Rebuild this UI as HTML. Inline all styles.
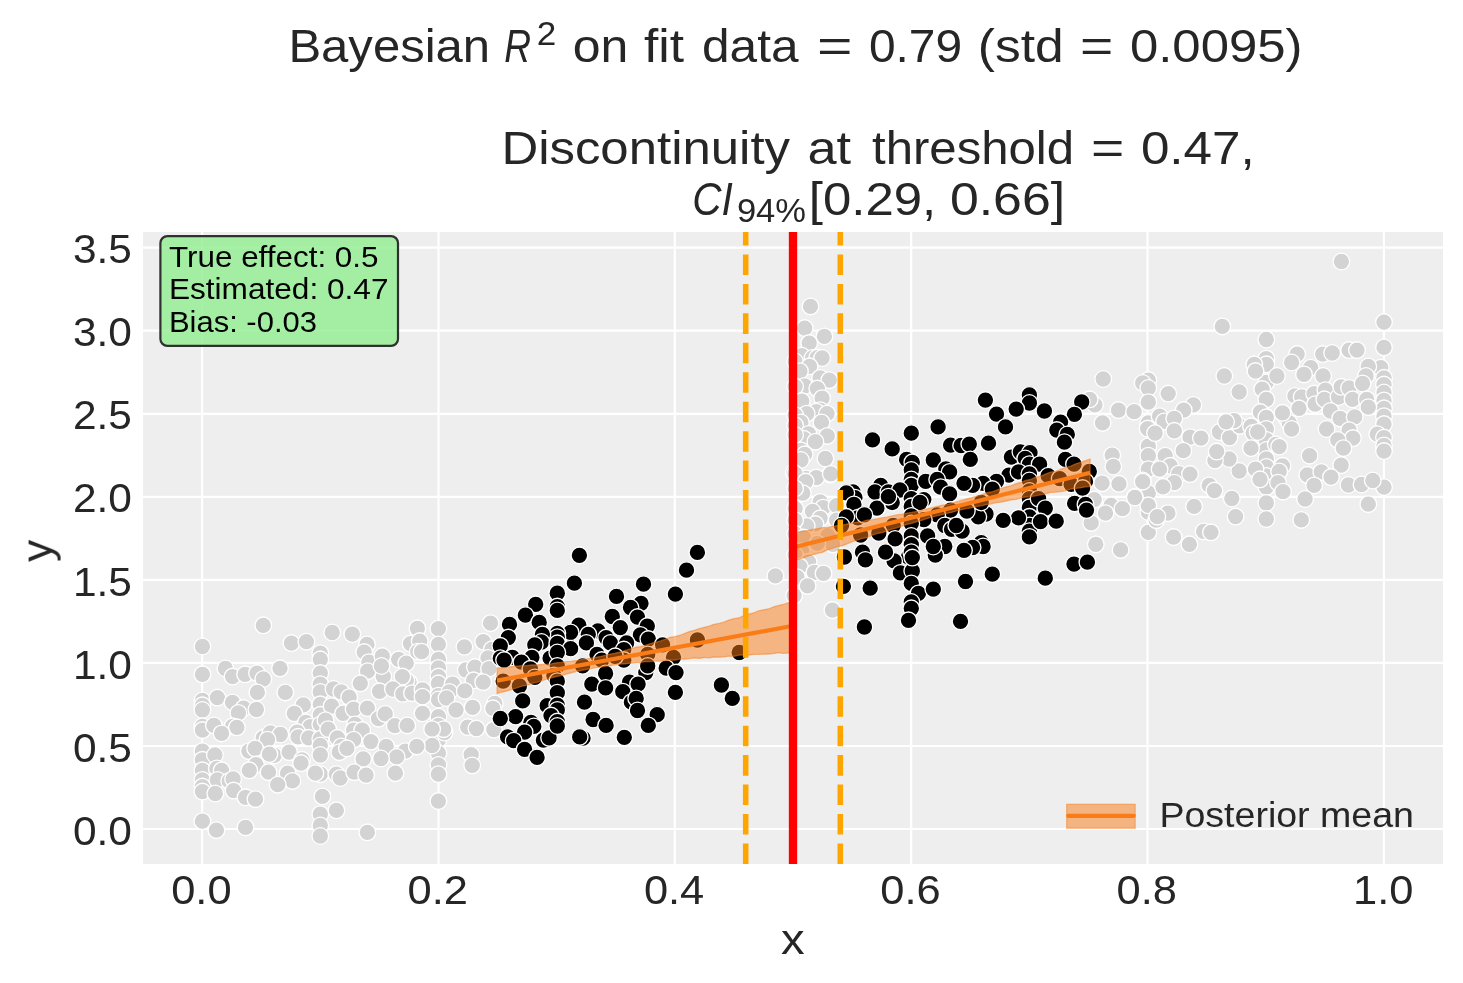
<!DOCTYPE html>
<html><head><meta charset="utf-8"><title>Regression discontinuity</title>
<style>
html,body{margin:0;padding:0;background:#fff;}
body{width:1463px;height:983px;overflow:hidden;font-family:"Liberation Sans",sans-serif;}
svg{display:block;position:absolute;left:0;top:0;}
text{font-family:"Liberation Sans",sans-serif;fill:#262626;}
.g{fill:#d3d3d3;stroke:#fff;stroke-width:1.33;}
.k{fill:#000;stroke:#fff;stroke-width:1.33;}
</style></head><body>
<svg width="1463" height="983" viewBox="0 0 1463 983">
<rect x="0" y="0" width="1463" height="983" fill="#ffffff"/>
<rect x="143.0" y="232.0" width="1300.0" height="632.0" fill="#eeeeee"/>
<clipPath id="ax"><rect x="143.0" y="232.0" width="1300.0" height="632.0"/></clipPath>
<g clip-path="url(#ax)">
<g stroke="#ffffff" stroke-width="2.2" fill="none">
<line x1="202.1" y1="232.0" x2="202.1" y2="864.0"/>
<line x1="438.5" y1="232.0" x2="438.5" y2="864.0"/>
<line x1="674.8" y1="232.0" x2="674.8" y2="864.0"/>
<line x1="911.2" y1="232.0" x2="911.2" y2="864.0"/>
<line x1="1147.5" y1="232.0" x2="1147.5" y2="864.0"/>
<line x1="1383.9" y1="232.0" x2="1383.9" y2="864.0"/>
<line x1="143.0" y1="829.0" x2="1443.0" y2="829.0"/>
<line x1="143.0" y1="746.0" x2="1443.0" y2="746.0"/>
<line x1="143.0" y1="662.9" x2="1443.0" y2="662.9"/>
<line x1="143.0" y1="579.9" x2="1443.0" y2="579.9"/>
<line x1="143.0" y1="496.8" x2="1443.0" y2="496.8"/>
<line x1="143.0" y1="413.8" x2="1443.0" y2="413.8"/>
<line x1="143.0" y1="330.7" x2="1443.0" y2="330.7"/>
<line x1="143.0" y1="247.6" x2="1443.0" y2="247.6"/>
</g>
<g class="g">
<circle cx="202.4" cy="646.5" r="8.33"/>
<circle cx="202.4" cy="674.3" r="8.33"/>
<circle cx="202.4" cy="700.5" r="8.33"/>
<circle cx="202.4" cy="705.3" r="8.33"/>
<circle cx="202.4" cy="710.0" r="8.33"/>
<circle cx="202.4" cy="726.3" r="8.33"/>
<circle cx="202.4" cy="730.1" r="8.33"/>
<circle cx="202.4" cy="751.2" r="8.33"/>
<circle cx="202.4" cy="759.8" r="8.33"/>
<circle cx="202.4" cy="770.3" r="8.33"/>
<circle cx="202.4" cy="779.9" r="8.33"/>
<circle cx="202.4" cy="786.6" r="8.33"/>
<circle cx="263.3" cy="625.3" r="8.33"/>
<circle cx="291.4" cy="643.1" r="8.33"/>
<circle cx="306.4" cy="641.7" r="8.33"/>
<circle cx="332.2" cy="632.5" r="8.33"/>
<circle cx="352.3" cy="634.1" r="8.33"/>
<circle cx="367.0" cy="644.4" r="8.33"/>
<circle cx="364.2" cy="652.1" r="8.33"/>
<circle cx="368.9" cy="662.2" r="8.33"/>
<circle cx="367.6" cy="671.2" r="8.33"/>
<circle cx="360.3" cy="683.3" r="8.33"/>
<circle cx="382.3" cy="656.1" r="8.33"/>
<circle cx="383.3" cy="676.6" r="8.33"/>
<circle cx="379.5" cy="691.3" r="8.33"/>
<circle cx="381.4" cy="666.0" r="8.33"/>
<circle cx="398.6" cy="659.3" r="8.33"/>
<circle cx="406.3" cy="663.2" r="8.33"/>
<circle cx="417.4" cy="628.3" r="8.33"/>
<circle cx="410.5" cy="643.6" r="8.33"/>
<circle cx="419.7" cy="641.1" r="8.33"/>
<circle cx="417.8" cy="651.7" r="8.33"/>
<circle cx="421.6" cy="651.7" r="8.33"/>
<circle cx="438.4" cy="628.7" r="8.33"/>
<circle cx="438.4" cy="644.4" r="8.33"/>
<circle cx="438.4" cy="659.3" r="8.33"/>
<circle cx="438.4" cy="667.9" r="8.33"/>
<circle cx="438.4" cy="676.6" r="8.33"/>
<circle cx="438.4" cy="683.3" r="8.33"/>
<circle cx="438.4" cy="695.7" r="8.33"/>
<circle cx="438.4" cy="699.5" r="8.33"/>
<circle cx="438.4" cy="716.7" r="8.33"/>
<circle cx="438.4" cy="725.4" r="8.33"/>
<circle cx="438.4" cy="739.7" r="8.33"/>
<circle cx="438.4" cy="753.1" r="8.33"/>
<circle cx="438.4" cy="765.0" r="8.33"/>
<circle cx="438.4" cy="774.2" r="8.33"/>
<circle cx="452.6" cy="684.2" r="8.33"/>
<circle cx="449.3" cy="691.9" r="8.33"/>
<circle cx="446.5" cy="698.0" r="8.33"/>
<circle cx="456.0" cy="710.0" r="8.33"/>
<circle cx="444.5" cy="732.6" r="8.33"/>
<circle cx="443.6" cy="729.2" r="8.33"/>
<circle cx="432.1" cy="729.2" r="8.33"/>
<circle cx="432.1" cy="745.5" r="8.33"/>
<circle cx="225.4" cy="668.5" r="8.33"/>
<circle cx="232.5" cy="676.6" r="8.33"/>
<circle cx="245.1" cy="674.3" r="8.33"/>
<circle cx="257.0" cy="673.1" r="8.33"/>
<circle cx="263.3" cy="679.0" r="8.33"/>
<circle cx="257.4" cy="692.4" r="8.33"/>
<circle cx="280.0" cy="668.3" r="8.33"/>
<circle cx="285.3" cy="692.4" r="8.33"/>
<circle cx="217.4" cy="697.6" r="8.33"/>
<circle cx="232.5" cy="702.4" r="8.33"/>
<circle cx="243.6" cy="708.1" r="8.33"/>
<circle cx="238.4" cy="712.9" r="8.33"/>
<circle cx="256.4" cy="709.5" r="8.33"/>
<circle cx="213.9" cy="725.4" r="8.33"/>
<circle cx="232.5" cy="726.3" r="8.33"/>
<circle cx="236.9" cy="727.3" r="8.33"/>
<circle cx="221.6" cy="733.4" r="8.33"/>
<circle cx="303.3" cy="704.9" r="8.33"/>
<circle cx="294.3" cy="713.3" r="8.33"/>
<circle cx="305.8" cy="722.5" r="8.33"/>
<circle cx="310.2" cy="726.7" r="8.33"/>
<circle cx="297.2" cy="732.1" r="8.33"/>
<circle cx="298.1" cy="736.8" r="8.33"/>
<circle cx="308.7" cy="737.8" r="8.33"/>
<circle cx="320.3" cy="653.2" r="8.33"/>
<circle cx="320.3" cy="659.3" r="8.33"/>
<circle cx="320.3" cy="673.1" r="8.33"/>
<circle cx="320.3" cy="684.2" r="8.33"/>
<circle cx="320.3" cy="691.9" r="8.33"/>
<circle cx="320.3" cy="704.3" r="8.33"/>
<circle cx="320.3" cy="714.8" r="8.33"/>
<circle cx="320.3" cy="724.4" r="8.33"/>
<circle cx="320.3" cy="738.8" r="8.33"/>
<circle cx="320.3" cy="745.5" r="8.33"/>
<circle cx="320.3" cy="755.0" r="8.33"/>
<circle cx="320.3" cy="774.2" r="8.33"/>
<circle cx="315.4" cy="773.2" r="8.33"/>
<circle cx="333.5" cy="689.0" r="8.33"/>
<circle cx="341.2" cy="691.9" r="8.33"/>
<circle cx="349.2" cy="697.2" r="8.33"/>
<circle cx="331.6" cy="706.2" r="8.33"/>
<circle cx="343.1" cy="713.3" r="8.33"/>
<circle cx="353.6" cy="709.1" r="8.33"/>
<circle cx="325.5" cy="720.2" r="8.33"/>
<circle cx="328.2" cy="729.2" r="8.33"/>
<circle cx="337.4" cy="737.8" r="8.33"/>
<circle cx="367.4" cy="708.1" r="8.33"/>
<circle cx="378.5" cy="718.7" r="8.33"/>
<circle cx="385.2" cy="713.9" r="8.33"/>
<circle cx="355.0" cy="724.4" r="8.33"/>
<circle cx="353.6" cy="730.1" r="8.33"/>
<circle cx="362.2" cy="730.1" r="8.33"/>
<circle cx="353.6" cy="739.7" r="8.33"/>
<circle cx="370.9" cy="741.6" r="8.33"/>
<circle cx="341.2" cy="746.4" r="8.33"/>
<circle cx="339.3" cy="752.2" r="8.33"/>
<circle cx="346.9" cy="748.3" r="8.33"/>
<circle cx="394.8" cy="725.7" r="8.33"/>
<circle cx="407.2" cy="725.4" r="8.33"/>
<circle cx="422.5" cy="713.3" r="8.33"/>
<circle cx="409.1" cy="682.3" r="8.33"/>
<circle cx="406.3" cy="680.4" r="8.33"/>
<circle cx="402.4" cy="676.6" r="8.33"/>
<circle cx="392.9" cy="689.0" r="8.33"/>
<circle cx="402.8" cy="693.8" r="8.33"/>
<circle cx="412.0" cy="693.2" r="8.33"/>
<circle cx="422.5" cy="690.0" r="8.33"/>
<circle cx="422.5" cy="696.7" r="8.33"/>
<circle cx="386.2" cy="746.4" r="8.33"/>
<circle cx="405.3" cy="751.2" r="8.33"/>
<circle cx="416.8" cy="746.4" r="8.33"/>
<circle cx="396.7" cy="756.9" r="8.33"/>
<circle cx="381.0" cy="758.5" r="8.33"/>
<circle cx="363.2" cy="758.9" r="8.33"/>
<circle cx="263.3" cy="737.8" r="8.33"/>
<circle cx="270.4" cy="733.0" r="8.33"/>
<circle cx="280.3" cy="734.5" r="8.33"/>
<circle cx="267.5" cy="739.7" r="8.33"/>
<circle cx="248.9" cy="751.2" r="8.33"/>
<circle cx="255.1" cy="748.3" r="8.33"/>
<circle cx="274.2" cy="755.4" r="8.33"/>
<circle cx="269.4" cy="754.1" r="8.33"/>
<circle cx="289.1" cy="752.2" r="8.33"/>
<circle cx="302.0" cy="759.8" r="8.33"/>
<circle cx="301.0" cy="763.1" r="8.33"/>
<circle cx="256.0" cy="764.6" r="8.33"/>
<circle cx="249.3" cy="770.3" r="8.33"/>
<circle cx="268.5" cy="772.2" r="8.33"/>
<circle cx="287.6" cy="773.2" r="8.33"/>
<circle cx="292.4" cy="780.9" r="8.33"/>
<circle cx="277.7" cy="784.7" r="8.33"/>
<circle cx="214.9" cy="755.0" r="8.33"/>
<circle cx="216.8" cy="768.4" r="8.33"/>
<circle cx="221.6" cy="770.3" r="8.33"/>
<circle cx="217.4" cy="779.9" r="8.33"/>
<circle cx="229.2" cy="780.9" r="8.33"/>
<circle cx="233.1" cy="778.9" r="8.33"/>
<circle cx="336.4" cy="774.2" r="8.33"/>
<circle cx="340.2" cy="778.0" r="8.33"/>
<circle cx="354.2" cy="772.2" r="8.33"/>
<circle cx="366.1" cy="775.1" r="8.33"/>
<circle cx="395.4" cy="773.2" r="8.33"/>
<circle cx="202.4" cy="791.6" r="8.33"/>
<circle cx="202.4" cy="821.2" r="8.33"/>
<circle cx="215.3" cy="793.5" r="8.33"/>
<circle cx="233.6" cy="790.6" r="8.33"/>
<circle cx="245.5" cy="797.3" r="8.33"/>
<circle cx="255.5" cy="799.2" r="8.33"/>
<circle cx="216.4" cy="830.2" r="8.33"/>
<circle cx="245.5" cy="827.4" r="8.33"/>
<circle cx="322.4" cy="796.4" r="8.33"/>
<circle cx="336.4" cy="810.3" r="8.33"/>
<circle cx="320.3" cy="814.2" r="8.33"/>
<circle cx="320.3" cy="825.5" r="8.33"/>
<circle cx="320.3" cy="836.0" r="8.33"/>
<circle cx="367.4" cy="832.3" r="8.33"/>
<circle cx="438.4" cy="801.1" r="8.33"/>
<circle cx="490.5" cy="623.2" r="8.33"/>
<circle cx="464.4" cy="646.8" r="8.33"/>
<circle cx="483.2" cy="641.6" r="8.33"/>
<circle cx="491.9" cy="649.3" r="8.33"/>
<circle cx="488.0" cy="658.0" r="8.33"/>
<circle cx="465.8" cy="670.0" r="8.33"/>
<circle cx="474.9" cy="667.1" r="8.33"/>
<circle cx="489.0" cy="668.7" r="8.33"/>
<circle cx="473.5" cy="680.3" r="8.33"/>
<circle cx="483.2" cy="682.2" r="8.33"/>
<circle cx="464.8" cy="690.9" r="8.33"/>
<circle cx="472.6" cy="707.4" r="8.33"/>
<circle cx="494.8" cy="703.5" r="8.33"/>
<circle cx="492.9" cy="708.3" r="8.33"/>
<circle cx="467.7" cy="727.1" r="8.33"/>
<circle cx="476.4" cy="728.6" r="8.33"/>
<circle cx="493.8" cy="729.6" r="8.33"/>
<circle cx="471.2" cy="754.7" r="8.33"/>
<circle cx="472.2" cy="765.4" r="8.33"/>
<circle cx="810.5" cy="306.4" r="8.33"/>
<circle cx="804.7" cy="328.1" r="8.33"/>
<circle cx="824.4" cy="336.4" r="8.33"/>
<circle cx="809.2" cy="343.1" r="8.33"/>
<circle cx="801.8" cy="355.7" r="8.33"/>
<circle cx="812.5" cy="358.0" r="8.33"/>
<circle cx="817.3" cy="357.6" r="8.33"/>
<circle cx="822.1" cy="358.0" r="8.33"/>
<circle cx="795.1" cy="361.5" r="8.33"/>
<circle cx="809.6" cy="366.3" r="8.33"/>
<circle cx="799.9" cy="371.2" r="8.33"/>
<circle cx="820.2" cy="377.9" r="8.33"/>
<circle cx="829.3" cy="380.2" r="8.33"/>
<circle cx="804.7" cy="386.0" r="8.33"/>
<circle cx="817.3" cy="388.6" r="8.33"/>
<circle cx="795.1" cy="386.6" r="8.33"/>
<circle cx="822.1" cy="398.2" r="8.33"/>
<circle cx="801.8" cy="401.1" r="8.33"/>
<circle cx="820.2" cy="410.2" r="8.33"/>
<circle cx="816.3" cy="411.7" r="8.33"/>
<circle cx="827.0" cy="413.7" r="8.33"/>
<circle cx="806.7" cy="413.7" r="8.33"/>
<circle cx="795.1" cy="415.2" r="8.33"/>
<circle cx="800.9" cy="422.4" r="8.33"/>
<circle cx="821.5" cy="422.4" r="8.33"/>
<circle cx="795.1" cy="425.3" r="8.33"/>
<circle cx="808.6" cy="434.0" r="8.33"/>
<circle cx="803.8" cy="438.8" r="8.33"/>
<circle cx="827.3" cy="435.9" r="8.33"/>
<circle cx="815.4" cy="441.7" r="8.33"/>
<circle cx="795.1" cy="434.9" r="8.33"/>
<circle cx="800.9" cy="450.4" r="8.33"/>
<circle cx="804.7" cy="454.3" r="8.33"/>
<circle cx="800.9" cy="460.0" r="8.33"/>
<circle cx="825.4" cy="458.5" r="8.33"/>
<circle cx="793.7" cy="472.6" r="8.33"/>
<circle cx="816.3" cy="477.4" r="8.33"/>
<circle cx="829.9" cy="474.5" r="8.33"/>
<circle cx="805.7" cy="478.4" r="8.33"/>
<circle cx="816.3" cy="477.7" r="8.33"/>
<circle cx="830.8" cy="473.9" r="8.33"/>
<circle cx="795.1" cy="473.9" r="8.33"/>
<circle cx="805.7" cy="481.6" r="8.33"/>
<circle cx="802.8" cy="493.2" r="8.33"/>
<circle cx="795.1" cy="488.4" r="8.33"/>
<circle cx="820.2" cy="501.9" r="8.33"/>
<circle cx="823.1" cy="507.7" r="8.33"/>
<circle cx="836.6" cy="505.7" r="8.33"/>
<circle cx="812.5" cy="511.5" r="8.33"/>
<circle cx="795.1" cy="508.6" r="8.33"/>
<circle cx="820.2" cy="518.3" r="8.33"/>
<circle cx="815.4" cy="524.1" r="8.33"/>
<circle cx="806.7" cy="526.0" r="8.33"/>
<circle cx="795.1" cy="520.2" r="8.33"/>
<circle cx="836.6" cy="520.2" r="8.33"/>
<circle cx="795.1" cy="533.8" r="8.33"/>
<circle cx="803.8" cy="537.6" r="8.33"/>
<circle cx="827.9" cy="535.7" r="8.33"/>
<circle cx="832.8" cy="544.4" r="8.33"/>
<circle cx="817.3" cy="543.4" r="8.33"/>
<circle cx="801.8" cy="551.2" r="8.33"/>
<circle cx="795.1" cy="555.0" r="8.33"/>
<circle cx="808.6" cy="561.8" r="8.33"/>
<circle cx="799.9" cy="566.6" r="8.33"/>
<circle cx="814.4" cy="572.4" r="8.33"/>
<circle cx="823.5" cy="573.4" r="8.33"/>
<circle cx="775.4" cy="575.9" r="8.33"/>
<circle cx="797.0" cy="577.2" r="8.33"/>
<circle cx="807.6" cy="585.9" r="8.33"/>
<circle cx="794.1" cy="595.6" r="8.33"/>
<circle cx="832.4" cy="610.1" r="8.33"/>
<circle cx="1384.0" cy="322.1" r="8.33"/>
<circle cx="1384.0" cy="347.4" r="8.33"/>
<circle cx="1380.7" cy="367.7" r="8.33"/>
<circle cx="1384.0" cy="377.8" r="8.33"/>
<circle cx="1384.0" cy="384.6" r="8.33"/>
<circle cx="1384.0" cy="392.5" r="8.33"/>
<circle cx="1384.0" cy="400.4" r="8.33"/>
<circle cx="1384.0" cy="408.3" r="8.33"/>
<circle cx="1384.0" cy="416.2" r="8.33"/>
<circle cx="1384.0" cy="424.1" r="8.33"/>
<circle cx="1377.3" cy="434.2" r="8.33"/>
<circle cx="1384.0" cy="437.6" r="8.33"/>
<circle cx="1384.0" cy="445.5" r="8.33"/>
<circle cx="1384.0" cy="451.1" r="8.33"/>
<circle cx="1384.0" cy="487.2" r="8.33"/>
<circle cx="1266.3" cy="339.5" r="8.33"/>
<circle cx="1266.3" cy="358.7" r="8.33"/>
<circle cx="1266.3" cy="364.3" r="8.33"/>
<circle cx="1266.3" cy="382.3" r="8.33"/>
<circle cx="1262.2" cy="389.1" r="8.33"/>
<circle cx="1266.3" cy="399.3" r="8.33"/>
<circle cx="1260.4" cy="412.1" r="8.33"/>
<circle cx="1266.3" cy="417.3" r="8.33"/>
<circle cx="1266.3" cy="429.0" r="8.33"/>
<circle cx="1266.3" cy="439.9" r="8.33"/>
<circle cx="1266.3" cy="450.0" r="8.33"/>
<circle cx="1266.3" cy="459.0" r="8.33"/>
<circle cx="1266.3" cy="466.9" r="8.33"/>
<circle cx="1266.3" cy="476.0" r="8.33"/>
<circle cx="1266.3" cy="487.2" r="8.33"/>
<circle cx="1266.3" cy="503.0" r="8.33"/>
<circle cx="1266.3" cy="519.0" r="8.33"/>
<circle cx="1148.3" cy="380.1" r="8.33"/>
<circle cx="1142.7" cy="383.0" r="8.33"/>
<circle cx="1148.3" cy="388.0" r="8.33"/>
<circle cx="1148.3" cy="402.2" r="8.33"/>
<circle cx="1148.3" cy="422.9" r="8.33"/>
<circle cx="1147.6" cy="428.6" r="8.33"/>
<circle cx="1148.3" cy="446.2" r="8.33"/>
<circle cx="1148.3" cy="455.7" r="8.33"/>
<circle cx="1148.3" cy="469.2" r="8.33"/>
<circle cx="1148.3" cy="492.9" r="8.33"/>
<circle cx="1148.3" cy="512.0" r="8.33"/>
<circle cx="1148.3" cy="505.3" r="8.33"/>
<circle cx="1222.3" cy="326.4" r="8.33"/>
<circle cx="1297.2" cy="354.1" r="8.33"/>
<circle cx="1291.6" cy="362.5" r="8.33"/>
<circle cx="1322.7" cy="354.1" r="8.33"/>
<circle cx="1332.2" cy="353.0" r="8.33"/>
<circle cx="1349.1" cy="350.1" r="8.33"/>
<circle cx="1357.0" cy="350.1" r="8.33"/>
<circle cx="1310.7" cy="367.7" r="8.33"/>
<circle cx="1304.0" cy="374.4" r="8.33"/>
<circle cx="1323.1" cy="376.0" r="8.33"/>
<circle cx="1368.3" cy="366.5" r="8.33"/>
<circle cx="1366.0" cy="376.0" r="8.33"/>
<circle cx="1254.3" cy="364.3" r="8.33"/>
<circle cx="1255.5" cy="371.1" r="8.33"/>
<circle cx="1276.9" cy="376.0" r="8.33"/>
<circle cx="1224.3" cy="376.0" r="8.33"/>
<circle cx="1239.2" cy="392.0" r="8.33"/>
<circle cx="1103.2" cy="379.0" r="8.33"/>
<circle cx="1168.2" cy="393.6" r="8.33"/>
<circle cx="1193.4" cy="404.9" r="8.33"/>
<circle cx="1183.7" cy="410.1" r="8.33"/>
<circle cx="1118.5" cy="410.1" r="8.33"/>
<circle cx="1134.1" cy="411.7" r="8.33"/>
<circle cx="1094.9" cy="404.9" r="8.33"/>
<circle cx="1089.7" cy="399.3" r="8.33"/>
<circle cx="1102.5" cy="422.9" r="8.33"/>
<circle cx="1159.6" cy="416.2" r="8.33"/>
<circle cx="1164.1" cy="421.4" r="8.33"/>
<circle cx="1174.3" cy="418.4" r="8.33"/>
<circle cx="1174.3" cy="430.8" r="8.33"/>
<circle cx="1155.1" cy="433.1" r="8.33"/>
<circle cx="1190.0" cy="437.2" r="8.33"/>
<circle cx="1200.9" cy="438.1" r="8.33"/>
<circle cx="1183.3" cy="450.7" r="8.33"/>
<circle cx="1165.2" cy="455.7" r="8.33"/>
<circle cx="1170.2" cy="465.8" r="8.33"/>
<circle cx="1178.8" cy="473.7" r="8.33"/>
<circle cx="1190.0" cy="474.1" r="8.33"/>
<circle cx="1174.3" cy="482.7" r="8.33"/>
<circle cx="1163.0" cy="486.8" r="8.33"/>
<circle cx="1159.6" cy="469.2" r="8.33"/>
<circle cx="1142.7" cy="480.5" r="8.33"/>
<circle cx="1134.8" cy="496.7" r="8.33"/>
<circle cx="1112.2" cy="455.2" r="8.33"/>
<circle cx="1113.3" cy="466.5" r="8.33"/>
<circle cx="1102.1" cy="483.2" r="8.33"/>
<circle cx="1119.0" cy="483.8" r="8.33"/>
<circle cx="1094.2" cy="499.6" r="8.33"/>
<circle cx="1111.1" cy="505.3" r="8.33"/>
<circle cx="1122.4" cy="508.7" r="8.33"/>
<circle cx="1105.5" cy="513.2" r="8.33"/>
<circle cx="1167.9" cy="513.2" r="8.33"/>
<circle cx="1194.1" cy="506.4" r="8.33"/>
<circle cx="1209.2" cy="485.4" r="8.33"/>
<circle cx="1214.4" cy="490.6" r="8.33"/>
<circle cx="1231.8" cy="498.5" r="8.33"/>
<circle cx="1235.6" cy="516.6" r="8.33"/>
<circle cx="1239.2" cy="471.0" r="8.33"/>
<circle cx="1229.1" cy="459.0" r="8.33"/>
<circle cx="1214.9" cy="460.6" r="8.33"/>
<circle cx="1216.7" cy="451.6" r="8.33"/>
<circle cx="1225.0" cy="433.1" r="8.33"/>
<circle cx="1219.4" cy="432.0" r="8.33"/>
<circle cx="1229.5" cy="437.6" r="8.33"/>
<circle cx="1239.7" cy="425.9" r="8.33"/>
<circle cx="1234.0" cy="420.7" r="8.33"/>
<circle cx="1226.1" cy="421.8" r="8.33"/>
<circle cx="1251.0" cy="426.3" r="8.33"/>
<circle cx="1253.2" cy="433.1" r="8.33"/>
<circle cx="1257.7" cy="432.0" r="8.33"/>
<circle cx="1251.0" cy="448.2" r="8.33"/>
<circle cx="1255.5" cy="469.2" r="8.33"/>
<circle cx="1260.0" cy="479.3" r="8.33"/>
<circle cx="1275.8" cy="444.4" r="8.33"/>
<circle cx="1279.2" cy="446.6" r="8.33"/>
<circle cx="1282.5" cy="465.8" r="8.33"/>
<circle cx="1279.2" cy="471.4" r="8.33"/>
<circle cx="1278.0" cy="482.7" r="8.33"/>
<circle cx="1283.0" cy="491.7" r="8.33"/>
<circle cx="1285.9" cy="417.3" r="8.33"/>
<circle cx="1289.3" cy="422.9" r="8.33"/>
<circle cx="1291.6" cy="429.0" r="8.33"/>
<circle cx="1282.5" cy="412.8" r="8.33"/>
<circle cx="1294.9" cy="395.9" r="8.33"/>
<circle cx="1301.7" cy="397.0" r="8.33"/>
<circle cx="1299.0" cy="408.3" r="8.33"/>
<circle cx="1314.1" cy="393.6" r="8.33"/>
<circle cx="1315.2" cy="404.2" r="8.33"/>
<circle cx="1325.4" cy="390.2" r="8.33"/>
<circle cx="1324.3" cy="399.3" r="8.33"/>
<circle cx="1338.5" cy="397.0" r="8.33"/>
<circle cx="1341.2" cy="386.8" r="8.33"/>
<circle cx="1349.1" cy="388.0" r="8.33"/>
<circle cx="1352.5" cy="399.3" r="8.33"/>
<circle cx="1362.6" cy="383.5" r="8.33"/>
<circle cx="1366.7" cy="399.3" r="8.33"/>
<circle cx="1368.3" cy="407.2" r="8.33"/>
<circle cx="1330.4" cy="411.0" r="8.33"/>
<circle cx="1340.1" cy="418.4" r="8.33"/>
<circle cx="1354.7" cy="416.9" r="8.33"/>
<circle cx="1326.5" cy="429.0" r="8.33"/>
<circle cx="1349.1" cy="430.2" r="8.33"/>
<circle cx="1352.9" cy="438.1" r="8.33"/>
<circle cx="1337.8" cy="439.9" r="8.33"/>
<circle cx="1343.4" cy="448.2" r="8.33"/>
<circle cx="1309.6" cy="455.7" r="8.33"/>
<circle cx="1341.2" cy="465.1" r="8.33"/>
<circle cx="1307.3" cy="474.8" r="8.33"/>
<circle cx="1321.3" cy="471.9" r="8.33"/>
<circle cx="1331.0" cy="477.1" r="8.33"/>
<circle cx="1314.1" cy="485.4" r="8.33"/>
<circle cx="1348.4" cy="485.0" r="8.33"/>
<circle cx="1361.5" cy="484.5" r="8.33"/>
<circle cx="1372.8" cy="480.5" r="8.33"/>
<circle cx="1305.1" cy="499.0" r="8.33"/>
<circle cx="1368.3" cy="504.2" r="8.33"/>
<circle cx="1301.3" cy="519.9" r="8.33"/>
<circle cx="1091.2" cy="522.9" r="8.33"/>
<circle cx="1148.3" cy="532.3" r="8.33"/>
<circle cx="1156.2" cy="520.2" r="8.33"/>
<circle cx="1173.6" cy="537.1" r="8.33"/>
<circle cx="1189.4" cy="544.3" r="8.33"/>
<circle cx="1203.6" cy="531.4" r="8.33"/>
<circle cx="1211.0" cy="532.3" r="8.33"/>
<circle cx="1095.8" cy="544.3" r="8.33"/>
<circle cx="1120.6" cy="549.9" r="8.33"/>
<circle cx="1142.7" cy="481.7" r="8.33"/>
<circle cx="1134.8" cy="497.5" r="8.33"/>
<circle cx="1157.3" cy="516.7" r="8.33"/>
<circle cx="1341.4" cy="261.5" r="8.33"/>
</g>
<g class="k">
<circle cx="579.4" cy="555.3" r="8.33"/>
<circle cx="697.4" cy="552.4" r="8.33"/>
<circle cx="686.5" cy="570.2" r="8.33"/>
<circle cx="574.4" cy="583.2" r="8.33"/>
<circle cx="643.5" cy="584.2" r="8.33"/>
<circle cx="675.4" cy="594.1" r="8.33"/>
<circle cx="557.3" cy="593.2" r="8.33"/>
<circle cx="616.5" cy="596.4" r="8.33"/>
<circle cx="641.0" cy="603.3" r="8.33"/>
<circle cx="535.7" cy="604.3" r="8.33"/>
<circle cx="630.5" cy="607.5" r="8.33"/>
<circle cx="557.3" cy="606.6" r="8.33"/>
<circle cx="557.3" cy="610.4" r="8.33"/>
<circle cx="525.4" cy="615.2" r="8.33"/>
<circle cx="612.3" cy="616.5" r="8.33"/>
<circle cx="539.2" cy="622.4" r="8.33"/>
<circle cx="637.5" cy="617.1" r="8.33"/>
<circle cx="509.5" cy="624.4" r="8.33"/>
<circle cx="578.8" cy="625.1" r="8.33"/>
<circle cx="620.3" cy="627.6" r="8.33"/>
<circle cx="647.3" cy="626.1" r="8.33"/>
<circle cx="570.6" cy="632.4" r="8.33"/>
<circle cx="597.9" cy="630.9" r="8.33"/>
<circle cx="588.3" cy="634.3" r="8.33"/>
<circle cx="557.3" cy="633.3" r="8.33"/>
<circle cx="557.3" cy="637.2" r="8.33"/>
<circle cx="508.3" cy="637.6" r="8.33"/>
<circle cx="606.1" cy="637.6" r="8.33"/>
<circle cx="640.4" cy="634.9" r="8.33"/>
<circle cx="648.3" cy="639.1" r="8.33"/>
<circle cx="542.4" cy="634.3" r="8.33"/>
<circle cx="541.5" cy="642.0" r="8.33"/>
<circle cx="534.8" cy="644.8" r="8.33"/>
<circle cx="557.3" cy="643.3" r="8.33"/>
<circle cx="500.3" cy="645.8" r="8.33"/>
<circle cx="586.4" cy="642.9" r="8.33"/>
<circle cx="610.4" cy="642.9" r="8.33"/>
<circle cx="626.6" cy="642.9" r="8.33"/>
<circle cx="570.6" cy="648.7" r="8.33"/>
<circle cx="597.0" cy="654.4" r="8.33"/>
<circle cx="623.8" cy="649.6" r="8.33"/>
<circle cx="662.6" cy="644.8" r="8.33"/>
<circle cx="697.4" cy="640.0" r="8.33"/>
<circle cx="739.2" cy="652.5" r="8.33"/>
<circle cx="673.5" cy="657.3" r="8.33"/>
<circle cx="647.7" cy="654.4" r="8.33"/>
<circle cx="531.9" cy="657.3" r="8.33"/>
<circle cx="512.4" cy="657.3" r="8.33"/>
<circle cx="500.3" cy="658.2" r="8.33"/>
<circle cx="504.1" cy="660.1" r="8.33"/>
<circle cx="521.4" cy="662.1" r="8.33"/>
<circle cx="550.1" cy="658.2" r="8.33"/>
<circle cx="557.3" cy="652.5" r="8.33"/>
<circle cx="557.3" cy="665.9" r="8.33"/>
<circle cx="530.4" cy="668.8" r="8.33"/>
<circle cx="582.6" cy="665.9" r="8.33"/>
<circle cx="601.7" cy="660.1" r="8.33"/>
<circle cx="623.8" cy="660.1" r="8.33"/>
<circle cx="615.1" cy="656.3" r="8.33"/>
<circle cx="666.2" cy="668.2" r="8.33"/>
<circle cx="676.0" cy="672.6" r="8.33"/>
<circle cx="645.8" cy="672.6" r="8.33"/>
<circle cx="647.7" cy="665.9" r="8.33"/>
<circle cx="605.6" cy="673.5" r="8.33"/>
<circle cx="553.9" cy="675.5" r="8.33"/>
<circle cx="534.8" cy="677.4" r="8.33"/>
<circle cx="503.2" cy="681.2" r="8.33"/>
<circle cx="519.4" cy="686.0" r="8.33"/>
<circle cx="591.8" cy="684.1" r="8.33"/>
<circle cx="605.6" cy="687.9" r="8.33"/>
<circle cx="629.5" cy="682.2" r="8.33"/>
<circle cx="638.1" cy="684.1" r="8.33"/>
<circle cx="557.3" cy="681.2" r="8.33"/>
<circle cx="557.3" cy="692.7" r="8.33"/>
<circle cx="622.8" cy="691.7" r="8.33"/>
<circle cx="675.4" cy="692.3" r="8.33"/>
<circle cx="721.4" cy="685.0" r="8.33"/>
<circle cx="732.3" cy="698.4" r="8.33"/>
<circle cx="522.7" cy="700.9" r="8.33"/>
<circle cx="584.5" cy="702.2" r="8.33"/>
<circle cx="631.4" cy="702.2" r="8.33"/>
<circle cx="636.2" cy="698.4" r="8.33"/>
<circle cx="547.2" cy="705.7" r="8.33"/>
<circle cx="557.3" cy="705.1" r="8.33"/>
<circle cx="557.3" cy="709.9" r="8.33"/>
<circle cx="637.5" cy="710.5" r="8.33"/>
<circle cx="657.2" cy="714.7" r="8.33"/>
<circle cx="551.0" cy="715.6" r="8.33"/>
<circle cx="515.6" cy="716.6" r="8.33"/>
<circle cx="500.3" cy="718.5" r="8.33"/>
<circle cx="593.1" cy="719.5" r="8.33"/>
<circle cx="530.9" cy="722.5" r="8.33"/>
<circle cx="533.8" cy="726.4" r="8.33"/>
<circle cx="606.1" cy="725.4" r="8.33"/>
<circle cx="648.3" cy="725.4" r="8.33"/>
<circle cx="524.6" cy="732.1" r="8.33"/>
<circle cx="507.6" cy="736.9" r="8.33"/>
<circle cx="513.7" cy="740.7" r="8.33"/>
<circle cx="543.4" cy="740.1" r="8.33"/>
<circle cx="549.1" cy="737.8" r="8.33"/>
<circle cx="583.0" cy="738.2" r="8.33"/>
<circle cx="579.7" cy="736.9" r="8.33"/>
<circle cx="624.3" cy="737.3" r="8.33"/>
<circle cx="524.6" cy="749.3" r="8.33"/>
<circle cx="537.1" cy="757.4" r="8.33"/>
<circle cx="557.3" cy="721.6" r="8.33"/>
<circle cx="557.3" cy="726.0" r="8.33"/>
<circle cx="985.4" cy="400.1" r="8.33"/>
<circle cx="1029.4" cy="394.9" r="8.33"/>
<circle cx="1029.4" cy="403.0" r="8.33"/>
<circle cx="1016.2" cy="409.1" r="8.33"/>
<circle cx="996.5" cy="414.1" r="8.33"/>
<circle cx="1044.4" cy="411.0" r="8.33"/>
<circle cx="1081.7" cy="402.0" r="8.33"/>
<circle cx="1074.4" cy="414.4" r="8.33"/>
<circle cx="1005.5" cy="426.9" r="8.33"/>
<circle cx="1060.6" cy="422.1" r="8.33"/>
<circle cx="1056.8" cy="430.1" r="8.33"/>
<circle cx="1067.3" cy="434.5" r="8.33"/>
<circle cx="1064.4" cy="442.2" r="8.33"/>
<circle cx="938.1" cy="426.9" r="8.33"/>
<circle cx="911.3" cy="433.2" r="8.33"/>
<circle cx="872.5" cy="439.9" r="8.33"/>
<circle cx="892.2" cy="448.9" r="8.33"/>
<circle cx="950.6" cy="445.1" r="8.33"/>
<circle cx="961.1" cy="445.5" r="8.33"/>
<circle cx="969.3" cy="444.1" r="8.33"/>
<circle cx="988.5" cy="443.2" r="8.33"/>
<circle cx="970.3" cy="459.4" r="8.33"/>
<circle cx="906.6" cy="459.4" r="8.33"/>
<circle cx="912.3" cy="462.3" r="8.33"/>
<circle cx="933.3" cy="460.0" r="8.33"/>
<circle cx="945.8" cy="469.0" r="8.33"/>
<circle cx="949.6" cy="471.9" r="8.33"/>
<circle cx="1011.4" cy="457.1" r="8.33"/>
<circle cx="1020.4" cy="451.8" r="8.33"/>
<circle cx="1030.0" cy="452.7" r="8.33"/>
<circle cx="1025.2" cy="458.5" r="8.33"/>
<circle cx="1029.4" cy="464.2" r="8.33"/>
<circle cx="1039.6" cy="464.2" r="8.33"/>
<circle cx="1065.4" cy="459.4" r="8.33"/>
<circle cx="1074.0" cy="464.2" r="8.33"/>
<circle cx="1089.3" cy="471.5" r="8.33"/>
<circle cx="1008.9" cy="475.1" r="8.33"/>
<circle cx="1018.5" cy="471.9" r="8.33"/>
<circle cx="1029.4" cy="473.8" r="8.33"/>
<circle cx="1029.4" cy="480.5" r="8.33"/>
<circle cx="1048.2" cy="475.7" r="8.33"/>
<circle cx="1059.7" cy="478.6" r="8.33"/>
<circle cx="1071.1" cy="484.3" r="8.33"/>
<circle cx="1085.5" cy="481.4" r="8.33"/>
<circle cx="1082.6" cy="488.1" r="8.33"/>
<circle cx="996.5" cy="481.4" r="8.33"/>
<circle cx="983.1" cy="483.3" r="8.33"/>
<circle cx="972.6" cy="485.3" r="8.33"/>
<circle cx="964.0" cy="483.3" r="8.33"/>
<circle cx="992.3" cy="489.1" r="8.33"/>
<circle cx="911.3" cy="470.0" r="8.33"/>
<circle cx="911.3" cy="479.5" r="8.33"/>
<circle cx="911.3" cy="485.3" r="8.33"/>
<circle cx="925.7" cy="481.4" r="8.33"/>
<circle cx="937.2" cy="479.5" r="8.33"/>
<circle cx="940.6" cy="487.2" r="8.33"/>
<circle cx="949.6" cy="493.9" r="8.33"/>
<circle cx="880.7" cy="485.3" r="8.33"/>
<circle cx="875.0" cy="492.0" r="8.33"/>
<circle cx="888.4" cy="492.0" r="8.33"/>
<circle cx="899.9" cy="490.0" r="8.33"/>
<circle cx="853.0" cy="492.0" r="8.33"/>
<circle cx="854.9" cy="497.7" r="8.33"/>
<circle cx="846.3" cy="492.9" r="8.33"/>
<circle cx="892.2" cy="502.5" r="8.33"/>
<circle cx="876.9" cy="508.2" r="8.33"/>
<circle cx="853.9" cy="504.4" r="8.33"/>
<circle cx="911.3" cy="498.7" r="8.33"/>
<circle cx="911.3" cy="506.3" r="8.33"/>
<circle cx="923.8" cy="499.6" r="8.33"/>
<circle cx="920.0" cy="502.5" r="8.33"/>
<circle cx="857.8" cy="517.8" r="8.33"/>
<circle cx="864.4" cy="514.9" r="8.33"/>
<circle cx="846.3" cy="516.8" r="8.33"/>
<circle cx="841.5" cy="525.5" r="8.33"/>
<circle cx="1029.4" cy="491.0" r="8.33"/>
<circle cx="1029.4" cy="498.7" r="8.33"/>
<circle cx="1029.4" cy="507.3" r="8.33"/>
<circle cx="1029.4" cy="516.8" r="8.33"/>
<circle cx="1029.4" cy="525.5" r="8.33"/>
<circle cx="1029.4" cy="531.2" r="8.33"/>
<circle cx="1029.4" cy="536.9" r="8.33"/>
<circle cx="1038.6" cy="498.7" r="8.33"/>
<circle cx="1045.3" cy="508.2" r="8.33"/>
<circle cx="1040.5" cy="521.6" r="8.33"/>
<circle cx="1018.5" cy="517.8" r="8.33"/>
<circle cx="1056.2" cy="521.2" r="8.33"/>
<circle cx="1074.6" cy="503.4" r="8.33"/>
<circle cx="1085.5" cy="504.4" r="8.33"/>
<circle cx="1086.5" cy="510.1" r="8.33"/>
<circle cx="1003.2" cy="520.3" r="8.33"/>
<circle cx="986.0" cy="514.0" r="8.33"/>
<circle cx="978.3" cy="516.8" r="8.33"/>
<circle cx="981.2" cy="502.5" r="8.33"/>
<circle cx="966.8" cy="511.1" r="8.33"/>
<circle cx="950.6" cy="510.1" r="8.33"/>
<circle cx="937.2" cy="514.9" r="8.33"/>
<circle cx="923.8" cy="519.7" r="8.33"/>
<circle cx="911.3" cy="515.9" r="8.33"/>
<circle cx="911.3" cy="523.5" r="8.33"/>
<circle cx="893.2" cy="525.5" r="8.33"/>
<circle cx="878.8" cy="533.1" r="8.33"/>
<circle cx="860.6" cy="535.0" r="8.33"/>
<circle cx="911.3" cy="536.0" r="8.33"/>
<circle cx="895.1" cy="538.9" r="8.33"/>
<circle cx="911.3" cy="544.6" r="8.33"/>
<circle cx="927.6" cy="536.0" r="8.33"/>
<circle cx="944.8" cy="525.5" r="8.33"/>
<circle cx="951.5" cy="529.3" r="8.33"/>
<circle cx="962.1" cy="531.2" r="8.33"/>
<circle cx="956.3" cy="525.5" r="8.33"/>
<circle cx="981.2" cy="542.7" r="8.33"/>
<circle cx="983.1" cy="546.5" r="8.33"/>
<circle cx="972.6" cy="547.5" r="8.33"/>
<circle cx="964.0" cy="550.3" r="8.33"/>
<circle cx="944.8" cy="546.5" r="8.33"/>
<circle cx="935.3" cy="555.1" r="8.33"/>
<circle cx="933.3" cy="546.5" r="8.33"/>
<circle cx="908.5" cy="557.0" r="8.33"/>
<circle cx="894.1" cy="560.9" r="8.33"/>
<circle cx="885.5" cy="552.2" r="8.33"/>
<circle cx="862.5" cy="552.2" r="8.33"/>
<circle cx="865.4" cy="559.9" r="8.33"/>
<circle cx="844.4" cy="557.0" r="8.33"/>
<circle cx="1074.0" cy="564.1" r="8.33"/>
<circle cx="1087.4" cy="562.2" r="8.33"/>
<circle cx="911.3" cy="552.2" r="8.33"/>
<circle cx="888.4" cy="496.7" r="8.33"/>
<circle cx="900.4" cy="572.9" r="8.33"/>
<circle cx="912.3" cy="571.0" r="8.33"/>
<circle cx="911.3" cy="583.4" r="8.33"/>
<circle cx="918.4" cy="593.4" r="8.33"/>
<circle cx="911.3" cy="602.0" r="8.33"/>
<circle cx="911.3" cy="608.3" r="8.33"/>
<circle cx="908.5" cy="620.3" r="8.33"/>
<circle cx="992.3" cy="574.2" r="8.33"/>
<circle cx="965.5" cy="581.5" r="8.33"/>
<circle cx="1045.3" cy="578.2" r="8.33"/>
<circle cx="933.3" cy="589.1" r="8.33"/>
<circle cx="843.4" cy="586.3" r="8.33"/>
<circle cx="870.2" cy="588.2" r="8.33"/>
<circle cx="864.4" cy="627.0" r="8.33"/>
<circle cx="960.5" cy="621.3" r="8.33"/>
<circle cx="912.3" cy="557.6" r="8.33"/>
</g>
<path d="M497.1,667.9 L502.0,667.9 L507.0,667.4 L511.9,666.5 L516.8,666.1 L521.8,665.7 L526.7,665.7 L531.6,665.0 L536.6,665.0 L541.5,664.5 L546.4,664.4 L551.3,663.8 L556.3,662.8 L561.2,662.4 L566.1,661.7 L571.1,661.4 L576.0,660.6 L580.9,659.7 L585.9,659.2 L590.8,658.2 L595.7,657.3 L600.7,656.5 L605.6,655.1 L610.5,654.1 L615.5,653.1 L620.4,652.0 L625.3,650.4 L630.3,648.9 L635.2,647.5 L640.1,646.7 L645.0,645.4 L650.0,643.8 L654.9,642.3 L659.8,641.2 L664.8,639.4 L669.7,637.5 L674.6,636.7 L679.6,635.5 L684.5,633.5 L689.4,631.6 L694.4,630.3 L699.3,628.7 L704.2,627.3 L709.2,626.2 L714.1,624.3 L719.0,623.4 L724.0,622.2 L728.9,620.1 L733.8,618.7 L738.8,618.0 L743.7,615.5 L748.6,614.1 L753.5,613.0 L758.5,610.9 L763.4,609.8 L768.3,609.0 L773.3,607.0 L778.2,605.7 L783.1,604.5 L788.1,602.9 L793.0,600.9 L793.0,652.2 L788.1,653.0 L783.1,653.3 L778.2,652.7 L773.3,653.7 L768.3,654.0 L763.4,654.2 L758.5,654.3 L753.5,654.4 L748.6,655.0 L743.7,655.0 L738.8,655.2 L733.8,656.3 L728.9,656.1 L724.0,656.9 L719.0,657.2 L714.1,657.0 L709.2,657.8 L704.2,657.4 L699.3,658.4 L694.4,657.9 L689.4,658.6 L684.5,659.2 L679.6,659.1 L674.6,660.2 L669.7,660.2 L664.8,660.5 L659.8,661.2 L654.9,661.1 L650.0,661.6 L645.0,661.7 L640.1,662.4 L635.2,662.9 L630.3,663.2 L625.3,663.9 L620.4,664.0 L615.5,664.7 L610.5,665.7 L605.6,666.2 L600.7,667.0 L595.7,667.6 L590.8,668.6 L585.9,669.5 L580.9,670.5 L576.0,671.5 L571.1,672.8 L566.1,674.2 L561.2,675.6 L556.3,676.5 L551.3,677.9 L546.4,679.1 L541.5,680.8 L536.6,682.6 L531.6,683.4 L526.7,685.4 L521.8,686.2 L516.8,688.0 L511.9,689.5 L507.0,690.9 L502.0,692.0 L497.1,693.6Z" fill="#fa7c17" fill-opacity="0.5" stroke="#fa7c17" stroke-opacity="0.5" stroke-width="1.3" stroke-linejoin="round"/>
<line x1="497.1" y1="680.6" x2="793.0" y2="625.8" stroke="#fa7c17" stroke-width="4.2" stroke-linecap="butt"/>
<path d="M793.0,532.8 L798.0,531.9 L802.9,531.3 L807.9,530.6 L812.8,529.4 L817.8,528.6 L822.7,527.7 L827.7,527.6 L832.6,526.3 L837.6,525.6 L842.5,525.2 L847.5,524.0 L852.4,522.8 L857.4,522.1 L862.3,521.7 L867.3,520.1 L872.2,519.7 L877.2,518.8 L882.1,517.9 L887.1,517.2 L892.0,515.9 L897.0,514.9 L901.9,514.2 L906.9,513.1 L911.8,512.4 L916.8,511.4 L921.7,510.3 L926.7,508.9 L931.6,507.9 L936.6,506.6 L941.5,505.5 L946.5,504.6 L951.5,503.3 L956.4,502.0 L961.4,500.4 L966.3,499.0 L971.3,497.8 L976.2,496.4 L981.2,494.8 L986.1,493.0 L991.1,492.0 L996.0,490.4 L1001.0,488.4 L1005.9,487.0 L1010.9,485.9 L1015.8,483.8 L1020.8,482.5 L1025.7,480.4 L1030.7,479.5 L1035.6,477.2 L1040.6,476.3 L1045.5,474.1 L1050.5,472.2 L1055.4,471.5 L1060.4,469.4 L1065.3,467.6 L1070.3,466.4 L1075.2,464.1 L1080.2,462.4 L1085.1,460.8 L1090.1,459.0 L1090.1,486.6 L1085.1,486.9 L1080.2,487.9 L1075.2,488.4 L1070.3,489.2 L1065.3,490.8 L1060.4,491.7 L1055.4,492.2 L1050.5,492.4 L1045.5,493.8 L1040.6,494.8 L1035.6,495.8 L1030.7,496.6 L1025.7,497.0 L1020.8,497.9 L1015.8,499.4 L1010.9,499.9 L1005.9,501.0 L1001.0,502.0 L996.0,502.7 L991.1,503.8 L986.1,504.7 L981.2,505.8 L976.2,506.6 L971.3,507.9 L966.3,508.6 L961.4,509.7 L956.4,510.9 L951.5,512.4 L946.5,513.4 L941.5,514.8 L936.6,515.9 L931.6,517.1 L926.7,518.7 L921.7,520.3 L916.8,521.7 L911.8,523.3 L906.9,524.4 L901.9,526.2 L897.0,527.8 L892.0,529.1 L887.1,530.9 L882.1,532.7 L877.2,533.5 L872.2,535.2 L867.3,537.5 L862.3,538.4 L857.4,540.1 L852.4,541.6 L847.5,543.6 L842.5,545.7 L837.6,546.5 L832.6,548.3 L827.7,549.7 L822.7,552.2 L817.8,553.3 L812.8,554.7 L807.9,556.2 L802.9,558.0 L798.0,559.5 L793.0,561.9Z" fill="#fa7c17" fill-opacity="0.5" stroke="#fa7c17" stroke-opacity="0.5" stroke-width="1.3" stroke-linejoin="round"/>
<line x1="793.0" y1="547.5" x2="1090.1" y2="472.8" stroke="#fa7c17" stroke-width="4.2" stroke-linecap="butt"/>
<line x1="745.7" y1="864.0" x2="745.7" y2="232.0" stroke="#ffa500" stroke-width="5.56" stroke-dasharray="20.56 8.89"/>
<line x1="840.3" y1="864.0" x2="840.3" y2="232.0" stroke="#ffa500" stroke-width="5.56" stroke-dasharray="20.56 8.89"/>
<line x1="793.0" y1="864.0" x2="793.0" y2="232.0" stroke="#ff0000" stroke-width="8.33"/>
</g>
<rect x="160.4" y="236.1" width="237.6" height="109.8" rx="7" ry="7" fill="#90ee90" fill-opacity="0.8" stroke="#262626" stroke-opacity="0.95" stroke-width="2.2"/>
<g opacity="0.999">
<text x="288.4" y="61.8" font-size="46.4" text-anchor="start" textLength="201.7" lengthAdjust="spacingAndGlyphs">Bayesian</text>
<text x="504.3" y="61.8" font-size="46.4" text-anchor="start" textLength="26.8" lengthAdjust="spacingAndGlyphs" font-style="italic">R</text>
<text x="572.8" y="61.8" font-size="46.4" text-anchor="start" textLength="55.6" lengthAdjust="spacingAndGlyphs">on</text>
<text x="644.0" y="61.8" font-size="46.4" text-anchor="start" textLength="40.0" lengthAdjust="spacingAndGlyphs">fit</text>
<text x="702.0" y="61.8" font-size="46.4" text-anchor="start" textLength="96.5" lengthAdjust="spacingAndGlyphs">data</text>
<text x="817.0" y="61.8" font-size="46.4" text-anchor="start" textLength="35.5" lengthAdjust="spacingAndGlyphs">=</text>
<text x="868.9" y="61.8" font-size="46.4" text-anchor="start" textLength="93.2" lengthAdjust="spacingAndGlyphs">0.79</text>
<text x="977.8" y="61.8" font-size="46.4" text-anchor="start" textLength="85.9" lengthAdjust="spacingAndGlyphs">(std</text>
<text x="1080.1" y="61.8" font-size="46.4" text-anchor="start" textLength="33.3" lengthAdjust="spacingAndGlyphs">=</text>
<text x="1129.9" y="61.8" font-size="46.4" text-anchor="start" textLength="172.6" lengthAdjust="spacingAndGlyphs">0.0095)</text>
<text x="536.7" y="45.1" font-size="32.5" text-anchor="start" textLength="19.5" lengthAdjust="spacingAndGlyphs">2</text>
<text x="501.4" y="164.1" font-size="46.4" text-anchor="start" textLength="288.6" lengthAdjust="spacingAndGlyphs">Discontinuity</text>
<text x="807.4" y="164.1" font-size="46.4" text-anchor="start" textLength="43.7" lengthAdjust="spacingAndGlyphs">at</text>
<text x="872.0" y="164.1" font-size="46.4" text-anchor="start" textLength="202.1" lengthAdjust="spacingAndGlyphs">threshold</text>
<text x="1091.0" y="164.1" font-size="46.4" text-anchor="start" textLength="33.3" lengthAdjust="spacingAndGlyphs">=</text>
<text x="1140.9" y="164.1" font-size="46.4" text-anchor="start" textLength="113.9" lengthAdjust="spacingAndGlyphs">0.47,</text>
<text x="692.3" y="215.3" font-size="46.4" text-anchor="start" textLength="40.6" lengthAdjust="spacingAndGlyphs" font-style="italic">CI</text>
<text x="736.9" y="222.1" font-size="32.5" text-anchor="start" textLength="69.1" lengthAdjust="spacingAndGlyphs">94%</text>
<text x="808.8" y="215.3" font-size="46.4" text-anchor="start" textLength="127.4" lengthAdjust="spacingAndGlyphs">[0.29,</text>
<text x="949.9" y="215.3" font-size="46.4" text-anchor="start" textLength="115.2" lengthAdjust="spacingAndGlyphs">0.66]</text>
<text x="72.9" y="844.6" font-size="40.6" text-anchor="start" textLength="59.0" lengthAdjust="spacingAndGlyphs">0.0</text>
<text x="72.9" y="761.6" font-size="40.6" text-anchor="start" textLength="59.0" lengthAdjust="spacingAndGlyphs">0.5</text>
<text x="72.9" y="678.5" font-size="40.6" text-anchor="start" textLength="59.0" lengthAdjust="spacingAndGlyphs">1.0</text>
<text x="72.9" y="595.5" font-size="40.6" text-anchor="start" textLength="59.0" lengthAdjust="spacingAndGlyphs">1.5</text>
<text x="72.9" y="512.4" font-size="40.6" text-anchor="start" textLength="59.0" lengthAdjust="spacingAndGlyphs">2.0</text>
<text x="72.9" y="429.4" font-size="40.6" text-anchor="start" textLength="59.0" lengthAdjust="spacingAndGlyphs">2.5</text>
<text x="72.9" y="346.3" font-size="40.6" text-anchor="start" textLength="59.0" lengthAdjust="spacingAndGlyphs">3.0</text>
<text x="72.9" y="263.2" font-size="40.6" text-anchor="start" textLength="59.0" lengthAdjust="spacingAndGlyphs">3.5</text>
<text x="171.2" y="904.1" font-size="40.6" text-anchor="start" textLength="60.4" lengthAdjust="spacingAndGlyphs">0.0</text>
<text x="407.6" y="904.1" font-size="40.6" text-anchor="start" textLength="60.4" lengthAdjust="spacingAndGlyphs">0.2</text>
<text x="643.9" y="904.1" font-size="40.6" text-anchor="start" textLength="60.4" lengthAdjust="spacingAndGlyphs">0.4</text>
<text x="880.3" y="904.1" font-size="40.6" text-anchor="start" textLength="60.4" lengthAdjust="spacingAndGlyphs">0.6</text>
<text x="1116.6" y="904.1" font-size="40.6" text-anchor="start" textLength="60.4" lengthAdjust="spacingAndGlyphs">0.8</text>
<text x="1353.0" y="904.1" font-size="40.6" text-anchor="start" textLength="60.4" lengthAdjust="spacingAndGlyphs">1.0</text>
<text x="781.0" y="953.9" font-size="42.0" text-anchor="start" textLength="23.6" lengthAdjust="spacingAndGlyphs">x</text>
<text transform="translate(51.6,561.9) rotate(-90)" font-size="42.0" textLength="22.1" lengthAdjust="spacingAndGlyphs">y</text>
<rect x="1066.7" y="804.3" width="68.5" height="23.9" fill="#fa7c17" fill-opacity="0.5" stroke="#fa7c17" stroke-opacity="0.5" stroke-width="1.2"/>
<line x1="1068.2" y1="815.8" x2="1133.8" y2="815.8" stroke="#fa7c17" stroke-width="4.2" stroke-linecap="round"/>
<text x="1159.4" y="826.5" font-size="35.2" text-anchor="start" textLength="254.6" lengthAdjust="spacingAndGlyphs">Posterior mean</text>
<text x="169.0" y="266.8" font-size="29.4" text-anchor="start" textLength="209.5" lengthAdjust="spacingAndGlyphs" style="fill:#000">True effect: 0.5</text>
<text x="168.9" y="298.9" font-size="29.4" text-anchor="start" textLength="219.6" lengthAdjust="spacingAndGlyphs" style="fill:#000">Estimated: 0.47</text>
<text x="168.9" y="331.6" font-size="29.4" text-anchor="start" textLength="148.1" lengthAdjust="spacingAndGlyphs" style="fill:#000">Bias: -0.03</text>
</g>
</svg></body></html>
